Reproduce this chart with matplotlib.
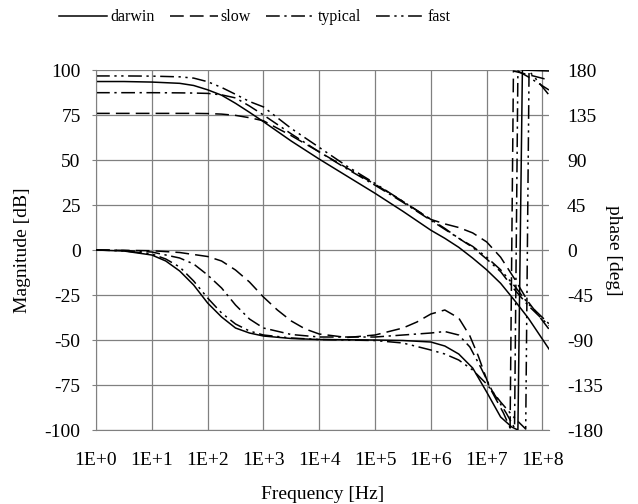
import matplotlib
matplotlib.use("Agg")
import matplotlib.pyplot as plt

## Bode plot of four amplifier models: magnitude on the left axis, phase on the right.

# magnitude, shared frequency grid [Hz]
f_mag = [1, 3.16, 10, 31.6, 56.2, 100, 178, 316, 562, 1e3, 3.16e3, 1e4, 3.16e4, 1e5,
         3.16e5, 1e6, 1.78e6, 3.16e6, 5.62e6, 1e7, 1.78e7, 3.16e7, 5.62e7, 1.31e8]
darwin_mag = [93.6, 93.6, 93.3, 92.6, 91.4, 89.0, 86.0, 81.5, 76.5, 71.3, 60.5, 50.5, 41.0, 31.5,
              21.5, 11.0, 6.5, 1.5, -4.5, -11.0, -18.5, -28.0, -38.0, -55.0]
slow_mag = [75.9, 75.9, 75.9, 75.9, 75.9, 75.8, 75.5, 74.8, 73.5, 71.8, 63.5, 54.5, 45.5, 36.5,
            27.0, 17.0, 14.5, 12.5, 9.5, 4.5, -4.0, -16.0, -29.0, -44.0]
typical_mag = [87.4, 87.4, 87.4, 87.3, 87.2, 87.0, 86.2, 84.5, 80.0, 75.0, 64.5, 54.5, 45.0, 36.0,
               26.5, 16.5, 11.5, 6.5, 1.5, -5.0, -12.0, -22.0, -31.0, -42.0]
fast_mag = [96.7, 96.7, 96.6, 96.2, 95.5, 93.5, 90.3, 86.5, 82.5, 79.5, 67.5, 57.0, 46.5, 37.0,
            27.0, 17.0, 12.0, 6.5, 2.0, -4.0, -11.0, -20.0, -30.0, -41.0]

# phase [deg], each with its own frequencies (wrap points differ)
darwin_ph_f = [1, 3.16, 10, 17.8, 31.6, 56.2, 100, 178, 316, 562, 1e3, 3.16e3, 1e4, 1e5, 3.16e5,
               1e6, 1.78e6, 3.16e6, 5.62e6, 1e7, 1.78e7, 2.82e7, 3.63e7, 4.37e7, 1.31e8]
darwin_ph = [0, -1, -5, -11, -21, -35, -53, -67, -78, -83, -86, -88.5, -89.5, -90, -90.5,
             -92, -96, -104, -118, -142, -167, -177, -180, 180, 179]
slow_ph_f = [1, 10, 31.6, 100, 178, 316, 562, 1e3, 1.78e3, 3.16e3, 5.62e3, 1e4, 3.16e4, 1e5,
             3.16e5, 5.62e5, 1e6, 1.78e6, 3.16e6, 5.01e6, 7.08e6, 1.12e7, 2e7, 2.63e7, 3.02e7,
             5.01e7, 1.31e8]
slow_ph = [0, -0.7, -2.5, -6.5, -11, -20, -32, -47, -60, -71, -79, -84, -87.5, -85,
           -78, -72, -64, -60, -68, -86, -106, -137, -163, -178, 179, 176, 170]
typical_ph_f = [1, 3.16, 10, 31.6, 56.2, 100, 178, 316, 562, 1e3, 3.16e3, 1e4, 1e5, 3.16e5,
                1e6, 1.78e6, 3.16e6, 5.01e6, 7.94e6, 1.26e7, 2.24e7, 3.16e7, 3.63e7, 5.62e7, 1.31e8]
typical_ph = [0, -0.5, -2, -8, -14, -25, -38, -55, -69, -78, -84.5, -87, -87, -85,
              -83, -81.5, -85, -97, -118, -141, -163, -178, 179, 173, 160]
fast_ph_f = [1, 3.16, 10, 17.8, 31.6, 56.2, 100, 178, 316, 562, 1e3, 3.16e3, 1e4, 1e5, 3.16e5,
             1e6, 1.78e6, 3.16e6, 5.62e6, 1e7, 1.78e7, 3.16e7, 5.01e7, 5.75e7, 7.94e7, 1.31e8]
fast_ph = [0, -0.8, -4, -9, -17, -31, -48, -63, -74, -81, -85, -88, -89.5, -90.5, -93,
           -100, -104, -110, -120, -134, -152, -168, -179, 179, 170, 155]

names = ["darwin", "slow", "typical", "fast"]
x_ticks = [10.0 ** k for k in range(9)]
x_labels = ["1E+%d" % k for k in range(9)]
mag_ticks = list(range(-100, 101, 25))
ph_ticks = list(range(-180, 181, 45))

plt.rcParams["font.family"] = ["Liberation Serif", "DejaVu Serif"]
plt.rcParams["axes.unicode_minus"] = False
styles = ["-", (0, (9, 4)), (0, (9, 3, 1.5, 3)), (0, (9, 3, 1.5, 3, 1.5, 3))]
grid_c = "#808080"

fig = plt.figure(figsize=(6.38, 5.04), dpi=100)
ax = fig.add_axes([0.1505, 0.1468, 0.7100, 0.7143])
ax2 = ax.twinx()

mags = [darwin_mag, slow_mag, typical_mag, fast_mag]
phs = [(darwin_ph_f, darwin_ph), (slow_ph_f, slow_ph), (typical_ph_f, typical_ph), (fast_ph_f, fast_ph)]
handles = []
for name, ls, m, (pf, p) in zip(names, styles, mags, phs):
    h, = ax.plot(f_mag, m, color="black", linestyle=ls, lw=1.1, label=name)
    ax2.plot(pf, p, color="black", linestyle=ls, lw=1.1)
    handles.append(h)

ax.set_xscale("log")
ax.set_xlim(1, 1.31e8)
ax.set_xticks(x_ticks)
ax.set_xticklabels(x_labels)
ax.minorticks_off()
ax.set_ylim(-100, 100)
ax.set_yticks(mag_ticks)
ax2.set_ylim(-180, 180)
ax2.set_yticks(ph_ticks)

ax.grid(True, color=grid_c, lw=0.9)
ax.set_axisbelow(True)
for a in (ax, ax2):
    for s in ("top", "right"):
        a.spines[s].set_visible(False)
    a.spines["left"].set_color(grid_c)
    a.spines["bottom"].set_color(grid_c)
ax2.spines["left"].set_visible(False)
ax2.spines["bottom"].set_visible(False)

ax.tick_params(axis="y", length=3, color=grid_c, pad=8, labelsize=14)
ax.tick_params(axis="x", length=0, pad=16, labelsize=14)
ax2.tick_params(axis="y", length=0, pad=13, labelsize=14)

ax.set_xlabel("Frequency [Hz]", fontsize=14, labelpad=12)
ax.set_ylabel("Magnitude [dB]", fontsize=14, labelpad=10)
ax2.set_ylabel("phase [deg]", fontsize=14, rotation=270, labelpad=14)

fig.legend(handles=handles, loc="center", bbox_to_anchor=(0.399, 0.966), ncol=4,
           frameon=False, fontsize=11.5, handlelength=3.0, handletextpad=0.2,
           columnspacing=0.95, borderpad=0)

fig.savefig("out.png", dpi=100)
